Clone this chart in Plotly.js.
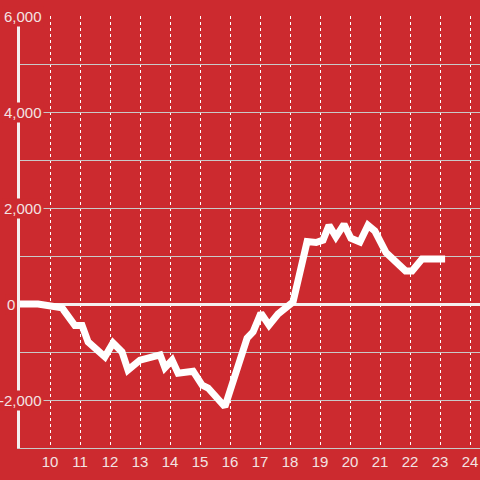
<!DOCTYPE html>
<html>
<head>
<meta charset="utf-8">
<script src="https://cdn.plot.ly/plotly-3.0.1.min.js"></script>
<style>html,body{margin:0;padding:0;background:#cc2a2f;}#chart{width:480px;height:480px;}</style>
</head>
<body>
<div id="chart"></div>
<script>
// Hours of the day (x) and running value (y)
const hours = [9, 9.6, 10.4, 10.83, 11.07, 11.27, 11.83, 12.1, 12.4, 12.6, 13.0, 13.5, 13.67, 13.83, 14.07, 14.27, 14.77, 15.07, 15.27, 15.83, 16.57, 16.77, 17.03, 17.3, 17.6, 18.1, 18.27, 18.57, 18.87, 19.1, 19.3, 19.53, 19.8, 20.03, 20.33, 20.6, 20.83, 21.2, 21.85, 22.07, 22.4, 23.17];
const values = [0, 0, -80, -450, -450, -790, -1100, -810, -1000, -1375, -1170, -1060, -1060, -1330, -1170, -1440, -1400, -1690, -1750, -2140, -710, -580, -190, -440, -210, 40, 500, 1300, 1280, 1330, 1640, 1400, 1660, 1370, 1290, 1640, 1520, 1070, 690, 690, 935, 935];
const xTicks = [10, 11, 12, 13, 14, 15, 16, 17, 18, 19, 20, 21, 22, 23, 24];
const yTickVals = [-2000, 0, 2000, 4000, 6000];
const yTickText = ['-2,000', '0', '2,000', '4,000', '6,000'];

const bg = '#cc2a2f';
const txt = '#f3e3e3';
const W = 460;

const annotations = yTickVals.map((v, i) => ({
  xref: 'paper', yref: 'y',
  x: v === 0 ? (17 - 20) / W : (44 - 20) / W,
  xanchor: 'right', y: v, yanchor: 'middle',
  text: yTickText[i], showarrow: false,
  bgcolor: bg, borderpad: 1,
  font: {family: 'Liberation Sans, Arial, sans-serif', size: 15, color: txt}
}));

Plotly.newPlot('chart', [{
  x: hours, y: values, type: 'scatter', mode: 'lines',
  line: {color: '#ffffff', width: 7},
  hoverinfo: 'skip'
}], {
  width: 480, height: 480,
  margin: {l: 20, r: 0, t: 16, b: 32, pad: 0},
  paper_bgcolor: bg, plot_bgcolor: bg,
  showlegend: false,
  font: {family: 'Liberation Sans, Arial, sans-serif', size: 15, color: txt},
  xaxis: {
    range: [9, 24.333], tickvals: xTicks, ticktext: xTicks.map(String),
    showgrid: true, gridcolor: '#ffffff', griddash: 'dot', gridwidth: 1,
    zeroline: false, showline: true, linecolor: '#c9c9c9', linewidth: 1,
    ticks: '', tickfont: {size: 15, color: txt}
  },
  yaxis: {
    range: [-3000, 6000], dtick: 1000, tick0: 0,
    showgrid: true, gridcolor: '#c9c9c9', gridwidth: 1,
    zeroline: true, zerolinecolor: '#f4f0f0', zerolinewidth: 3,
    showline: true, linecolor: '#f4f0f0', linewidth: 3,
    showticklabels: false, ticks: ''
  },
  annotations: annotations
}, {displayModeBar: false, staticPlot: true});
</script>
</body>
</html>
